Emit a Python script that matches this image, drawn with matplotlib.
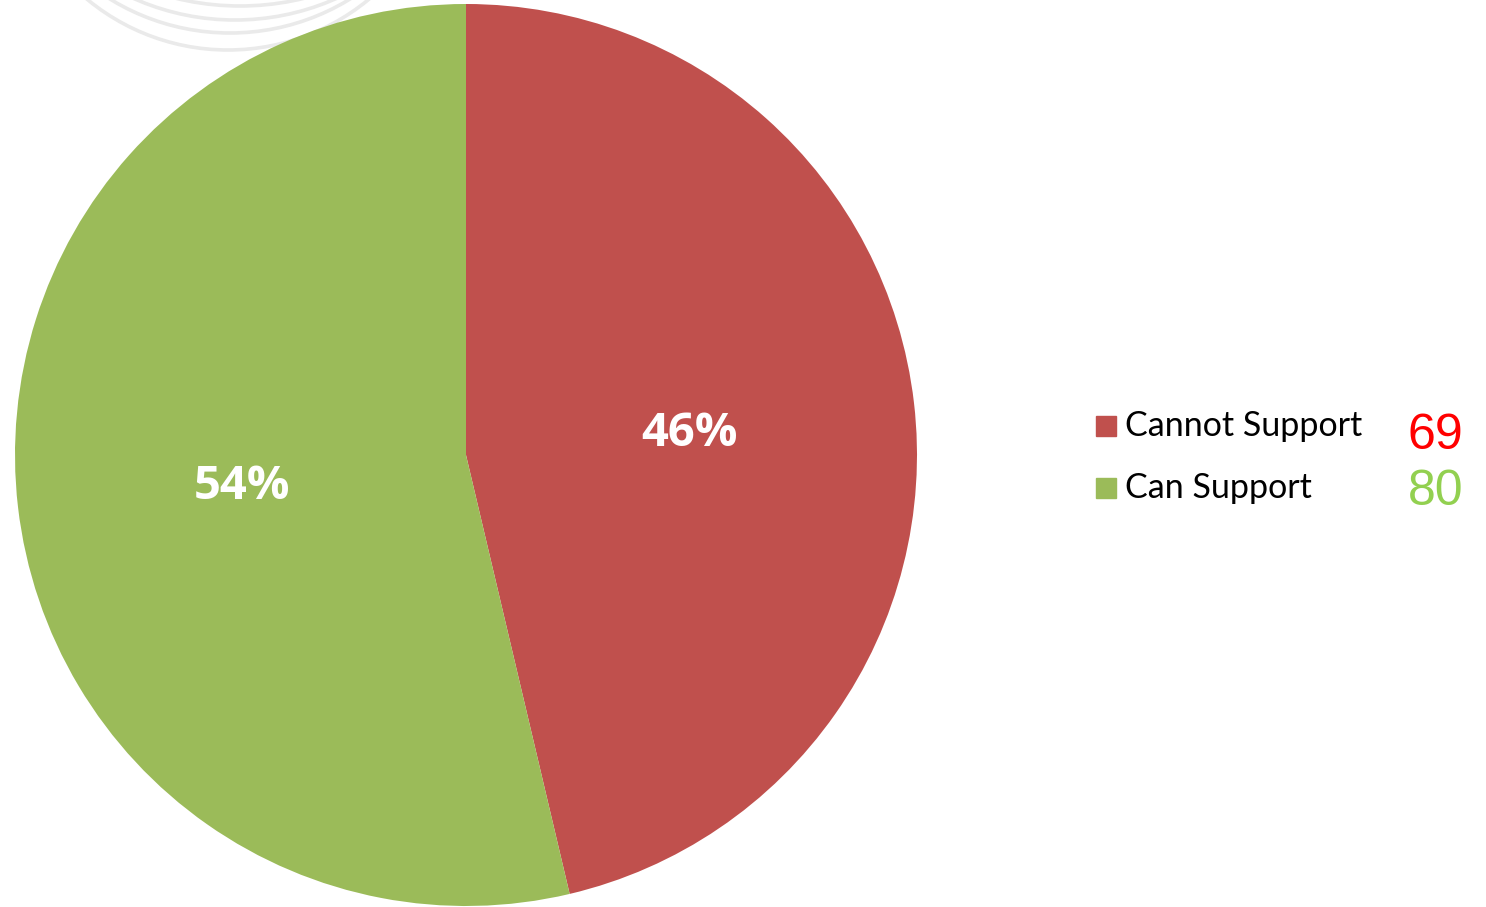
import matplotlib
matplotlib.use("Agg")
import matplotlib.pyplot as plt
from matplotlib.patches import Rectangle, Arc
from matplotlib.transforms import offset_copy

categories = ["Cannot Support", "Can Support"]
counts = [69, 80]
slice_colors = ["#C0504D", "#9BBB59"]
count_colors = ["#FF0000", "#92D050"]

W, H = 1486, 907
fig = plt.figure(figsize=(W / 100, H / 100), dpi=100)
fig.patch.set_facecolor("white")

# faint decorative swooshes in the top-left corner (pixel coordinates)
bg = fig.add_axes([0, 0, 1, 1])
bg.set_xlim(0, W)
bg.set_ylim(H, 0)
bg.axis("off")
for (ax_c, ay_c, r) in [(228, -171, 221), (230, -196, 229),
                        (235, -229, 249), (240, -264, 270)]:
    bg.add_patch(Arc((ax_c, ay_c), 2 * r, 2 * r, theta1=0, theta2=180,
                     color="#EAEAEA", lw=2.6))

# pie axes: centre at (466, 455) px, radius 451 px
cx, cy, R = 466, 455, 451
ax = fig.add_axes([(cx - R) / W, (H - cy - R) / H, 2 * R / W, 2 * R / H])
wedges, texts, autotexts = ax.pie(
    counts, colors=slice_colors, startangle=90, counterclock=False,
    autopct=lambda p: f"{p:.0f}%", pctdistance=0.5,
    textprops=dict(color="white", fontsize=34, fontweight="bold",
                   family="Open Sans"),
    wedgeprops=dict(linewidth=0))
for t in autotexts:
    t.set_transform(offset_copy(ax.transData, fig=fig, x=0, y=-5, units="dots"))
ax.set_xlim(-1, 1)
ax.set_ylim(-1, 1)
ax.set_aspect("equal")
ax.axis("off")

# legend with counts
rows_y = [426, 488]
count_y = [436, 492]
for name, n, sc, cc, y, ny in zip(categories, counts, slice_colors,
                                  count_colors, rows_y, count_y):
    fig.patches.append(Rectangle(((1096) / W, (H - y - 10) / H), 20 / W, 20 / H,
                                 transform=fig.transFigure, color=sc))
    fig.text(1125 / W, (H - y) / H, name, fontsize=24.5, family="Lato",
             color="black", va="center", ha="left")
    fig.text(1463 / W, (H - ny) / H, str(n), fontsize=36,
             family="Liberation Sans", color=cc, va="center", ha="right")

fig.savefig("out.png", dpi=100, facecolor="white")
